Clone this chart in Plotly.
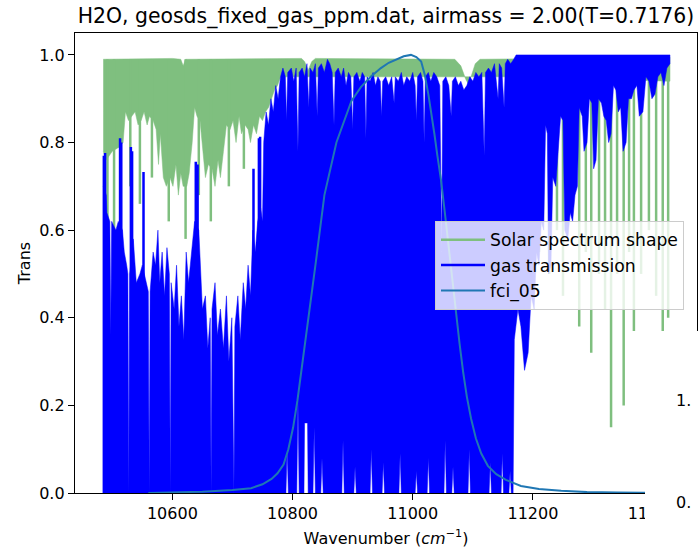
import plotly.graph_objects as go

# ---------------- data ----------------
# gas transmission: upper envelope of the dense line spectrum (wavenumber, value)
gas_upper = [
    (10485, 0.70), (10490, 0.68), (10491, 0.64), (10496, 0.62), (10497.5, 0.36), (10499, 0.62),
    (10506, 0.60), (10510, 0.62), (10517, 0.60), (10520, 0.55), (10524, 0.52), (10526, 0.50),
    (10527.5, 0.0), (10529, 0.50), (10535, 0.58), (10540, 0.48), (10546, 0.50), (10550, 0.52),
    (10555, 0.49), (10560, 0.46), (10561.5, 0.0), (10563, 0.46), (10568, 0.55), (10572, 0.52),
    (10576, 0.60), (10579, 0.48), (10583, 0.55), (10587, 0.45), (10591, 0.56), (10595, 0.50),
    (10596.5, 0.0), (10598, 0.48), (10603, 0.42), (10607, 0.52), (10611, 0.38), (10615, 0.45),
    (10619, 0.35), (10623, 0.55), (10627, 0.48), (10632, 0.55), (10637, 0.62), (10644, 0.60),
    (10650, 0.42), (10655, 0.45), (10659, 0.33), (10663, 0.40), (10664.5, 0.0), (10666, 0.42),
    (10671, 0.48), (10675, 0.36), (10680, 0.42), (10685, 0.33), (10690, 0.45), (10694, 0.30),
    (10699, 0.40), (10702.5, 0.0), (10704, 0.38), (10709, 0.45), (10713, 0.35), (10718, 0.48),
    (10722, 0.42), (10726, 0.52), (10730, 0.45), (10734, 0.60), (10738, 0.55), (10742, 0.62),
    (10747, 0.65), (10750, 0.62), (10752, 0.80), (10756, 0.87), (10760, 0.84), (10764, 0.90),
    (10768, 0.87), (10772, 0.93), (10776, 0.90), (10780, 0.95), (10784, 0.97),
    (10788, 0.95), (10790, 0.85), (10792, 0.96), (10798, 0.97), (10802, 0.94), (10806, 0.97),
    (10809, 0.78), (10811, 0.96), (10816, 0.97), (10820, 0.95), (10824, 0.98), (10827, 0.88),
    (10829, 0.97), (10834, 0.96), (10838, 0.98), (10841, 0.86), (10843, 0.97), (10848, 0.98),
    (10853, 0.96), (10858, 0.99), (10862, 0.98), (10866, 0.96), (10869, 0.84), (10871, 0.96),
    (10876, 0.97), (10881, 0.95), (10885, 0.97), (10889, 0.93), (10893, 0.96), (10897, 0.95),
    (10900, 0.83), (10902, 0.95), (10907, 0.96), (10912, 0.94), (10916, 0.96), (10920, 0.95),
    (10922, 0.81), (10924, 0.95), (10929, 0.94), (10934, 0.96), (10938, 0.93), (10942, 0.95),
    (10946, 0.94), (10948, 0.86), (10950, 0.94), (10955, 0.95), (10960, 0.93), (10965, 0.95),
    (10969, 0.89), (10971, 0.95), (10976, 0.94), (10981, 0.96), (10985, 0.93), (10990, 0.95),
    (10995, 0.94), (11000, 0.96), (11004, 0.93), (11006, 0.85), (11008, 0.95), (11013, 0.96),
    (11017, 0.94), (11019, 0.80), (11021, 0.95), (11026, 0.96), (11030, 0.94), (11035, 0.96),
    (11040, 0.95), (11045, 0.93), (11048, 0.55), (11050, 0.94), (11055, 0.95), (11060, 0.93),
    (11064, 0.86), (11066, 0.94), (11071, 0.95), (11076, 0.93), (11080, 0.94), (11085, 0.92),
    (11090, 0.93), (11095, 0.95), (11100, 0.94), (11105, 0.96), (11110, 0.95), (11115, 0.96),
    (11119, 0.77), (11121, 0.96), (11126, 0.97), (11131, 0.96), (11136, 0.98), (11142, 0.90),
    (11144, 0.98), (11148, 0.97), (11152, 0.88), (11154, 0.98), (11158, 0.99), (11163, 0.98),
    (11168, 0.99), (11172, 1.0), (11428, 1.0),
]
# gas transmission: lower envelope (wavenumber, value)
gas_lower = [
    (10485, 0.0), (10789, 0.0), (10791, 0.10), (10793, 0.0), (10807, 0.0), (10809, 0.22),
    (10811, 0.0), (10819, 0.0), (10820, 0.16), (10825, 0.16), (10826, 0.0), (10834, 0.0),
    (10836, 0.15), (10838, 0.0), (10847, 0.0), (10849, 0.08), (10851, 0.0), (10882, 0.0),
    (10884, 0.12), (10886, 0.0), (10902, 0.0), (10904, 0.06), (10906, 0.0), (10929, 0.0),
    (10931, 0.10), (10933, 0.0), (10949, 0.0), (10951, 0.07), (10953, 0.0), (10977, 0.0),
    (10979, 0.09), (10981, 0.0), (11004, 0.0), (11006, 0.05), (11008, 0.0), (11024, 0.0),
    (11026, 0.08), (11028, 0.0), (11052, 0.0), (11054, 0.12), (11056, 0.0), (11065, 0.0),
    (11067, 0.06), (11069, 0.0), (11092, 0.0), (11094, 0.10), (11096, 0.0), (11127, 0.0),
    (11129, 0.07), (11131, 0.0), (11147, 0.0), (11149, 0.09), (11151, 0.0), (11160, 0.0),
    (11162, 0.05), (11164, 0.0), (11167, 0.0),
    (11169, 0.35), (11175, 0.42), (11180, 0.38), (11186, 0.28), (11192, 0.32), (11197, 0.45),
    (11202, 0.42), (11206, 0.55), (11210, 0.52), (11214, 0.62), (11218, 0.60), (11221, 0.84),
    (11224, 0.82), (11226, 0.50), (11230, 0.52), (11233, 0.72), (11238, 0.70), (11242, 0.78),
    (11246, 0.86), (11250, 0.85), (11253, 0.60), (11258, 0.58), (11262, 0.64), (11266, 0.62),
    (11270, 0.68), (11274, 0.70), (11277, 0.88), (11282, 0.86), (11285, 0.78), (11290, 0.80),
    (11294, 0.90), (11298, 0.89), (11301, 0.74), (11305, 0.76), (11309, 0.90), (11314, 0.89),
    (11318, 0.86), (11322, 0.85), (11326, 0.80), (11330, 0.82), (11334, 0.93), (11338, 0.92),
    (11342, 0.87), (11346, 0.88), (11350, 0.78), (11355, 0.80), (11359, 0.90), (11364, 0.90),
    (11368, 0.92), (11373, 0.93), (11377, 0.86), (11383, 0.87), (11388, 0.95), (11393, 0.94),
    (11398, 0.90), (11403, 0.91), (11408, 0.95), (11413, 0.96), (11418, 0.93), (11423, 0.97),
    (11428, 0.98),
]
# narrow tall gas-transmission lines (wavenumber, low, high)
gas_line_wn = [10486, 10488, 10513, 10515, 10531, 10533, 10552, 10639, 10642, 10735, 10744, 10746]
gas_line_lo = [0.0] * 12
gas_line_hi = [0.77, 0.776, 0.81, 0.80, 0.79, 0.78, 0.733, 0.756, 0.75, 0.74, 0.81, 0.813]

# solar spectrum shape: band top and bottom (wavenumber, value)
solar_upper = [
    (10485, 0.99), (10600, 0.992), (10614, 0.99), (10618, 0.975), (10622, 0.99), (10815, 0.992),
    (10820, 0.985), (10826, 0.965), (10832, 0.985), (10838, 0.992), (11070, 0.99), (11080, 0.975),
    (11088, 0.945), (11092, 0.935), (11097, 0.95), (11104, 0.98), (11112, 0.99), (11428, 0.995),
]
solar_lower = [
    (10485, 0.78), (10490, 0.76), (10500, 0.78), (10512, 0.79), (10518, 0.80), (10522, 0.87),
    (10527, 0.85), (10532, 0.86), (10538, 0.87), (10543, 0.84), (10548, 0.85), (10553, 0.87),
    (10558, 0.84), (10562, 0.86), (10568, 0.85), (10573, 0.83), (10577, 0.75), (10580, 0.82),
    (10585, 0.72), (10590, 0.70), (10596, 0.72), (10601, 0.70), (10606, 0.75), (10610, 0.68),
    (10614, 0.73), (10618, 0.70), (10624, 0.70), (10628, 0.73), (10633, 0.80), (10637, 0.88),
    (10641, 0.86), (10646, 0.85), (10650, 0.80), (10655, 0.72), (10660, 0.75), (10666, 0.74),
    (10671, 0.70), (10676, 0.76), (10680, 0.72), (10685, 0.78), (10690, 0.84), (10696, 0.83),
    (10701, 0.85), (10706, 0.80), (10711, 0.86), (10715, 0.82), (10721, 0.84), (10726, 0.83),
    (10730, 0.80), (10735, 0.84), (10740, 0.82), (10745, 0.86), (10750, 0.85), (10755, 0.87),
    (10760, 0.88), (10765, 0.90), (10770, 0.92), (10775, 0.93), (10780, 0.95), (11170, 0.95),
    (11428, 0.94),
]
# deep solar absorption lines (wavenumber, low, high)
solar_line_wn = [10492, 10503, 10530, 10546, 10566, 10594, 10622, 10644, 10664, 10694, 10719,
                 11210, 11227, 11240, 11250, 11263, 11277, 11288, 11297, 11310, 11320, 11330,
                 11340, 11351, 11360, 11368, 11380, 11393, 11405, 11416, 11425]
solar_line_lo = [0.60, 0.52, 0.70, 0.66, 0.72, 0.62, 0.58, 0.68, 0.62, 0.70, 0.74,
                 0.55, 0.50, 0.60, 0.45, 0.65, 0.38, 0.55, 0.32, 0.50, 0.42, 0.15,
                 0.50, 0.20, 0.55, 0.37, 0.50, 0.60, 0.45, 0.35, 0.40]
solar_line_hi = [0.99] * 31

# fci_05 spectral response function
fci_wn = [10560, 10600, 10650, 10700, 10731, 10750, 10765, 10775, 10785, 10793, 10801, 10808,
          10814, 10821, 10828, 10839, 10853, 10873, 10898, 10914, 10930, 10947, 10960, 10972,
          10985, 10997, 11006, 11014, 11020, 11026, 11031, 11036, 11041, 11047, 11053, 11059,
          11065, 11072, 11078, 11084, 11090, 11097, 11105, 11114, 11125, 11139, 11155, 11180,
          11210, 11247, 11290, 11340, 11400, 11428]
fci_resp = [0.0, 0.001, 0.003, 0.007, 0.011, 0.02, 0.032, 0.045, 0.065, 0.10, 0.15, 0.21,
            0.27, 0.34, 0.41, 0.53, 0.68, 0.80, 0.895, 0.927, 0.95, 0.97, 0.982, 0.99,
            0.997, 1.0, 0.995, 0.985, 0.955, 0.91, 0.87, 0.82, 0.77, 0.715, 0.645, 0.57,
            0.49, 0.41, 0.34, 0.275, 0.22, 0.17, 0.125, 0.09, 0.062, 0.043, 0.03, 0.016,
            0.009, 0.005, 0.002, 0.001, 0.0, 0.0]

x_ticks = [10600, 10800, 11000, 11200, 11400]
x_tick_labels = ["10600", "10800", "11000", "11200", "11400"]
y_ticks = [0.0, 0.2, 0.4, 0.6, 0.8, 1.0]
y_tick_labels = ["0.0", "0.2", "0.4", "0.6", "0.8", "1.0"]
title_text = "H2O, geosds_fixed_gas_ppm.dat, airmass = 2.00(T=0.7176)"

# ---------------- styles ----------------
GREEN = "#7fbf7f"
BLUE = "#0000ff"
FCI = "#1f77b4"
FONT = "DejaVu Sans"


def polygon(upper, lower):
    xs = [p[0] for p in upper] + [p[0] for p in reversed(lower)]
    ys = [p[1] for p in upper] + [p[1] for p in reversed(lower)]
    return xs, ys


def segments(wn, lo, hi):
    xs, ys = [], []
    for w, a, b in zip(wn, lo, hi):
        xs += [w, w, None]
        ys += [a, b, None]
    return xs, ys


fig = go.Figure()

sx, sy = polygon(solar_upper, solar_lower)
fig.add_trace(go.Scatter(x=sx, y=sy, mode="lines", fill="toself", fillcolor=GREEN,
                         line=dict(color=GREEN, width=0.5), showlegend=False, hoverinfo="skip"))
lx, ly = segments(solar_line_wn, solar_line_lo, solar_line_hi)
fig.add_trace(go.Scatter(x=lx, y=ly, mode="lines", line=dict(color=GREEN, width=2.5),
                         name="Solar spectrum shape"))

gx, gy = polygon(gas_upper, gas_lower)
fig.add_trace(go.Scatter(x=gx, y=gy, mode="lines", fill="toself", fillcolor=BLUE,
                         line=dict(color=BLUE, width=0.5), showlegend=False, hoverinfo="skip"))
bx, by = segments(gas_line_wn, gas_line_lo, gas_line_hi)
fig.add_trace(go.Scatter(x=bx, y=by, mode="lines", line=dict(color=BLUE, width=2.5),
                         name="gas transmission"))

fig.add_trace(go.Scatter(x=fci_wn, y=fci_resp, mode="lines", line=dict(color=FCI, width=2),
                         name="fci_05"))

# plot area: x 75..697 px, y 33..493 px
L, R, T, B = 75, 697, 33, 493
W, H = R - L, B - T


def px(xp):
    return (xp - L) / W


def py(yp):
    return (B - yp) / H


axis_common = dict(showline=True, linecolor="black", linewidth=1.3, mirror=True,
                   ticks="outside", ticklen=6, tickwidth=1.3, tickcolor="black",
                   showgrid=False, zeroline=False,
                   tickfont=dict(family=FONT, size=16, color="black"))

fig.update_layout(
    width=700, height=553,
    margin=dict(l=L, r=700 - R, t=T, b=553 - B),
    paper_bgcolor="white", plot_bgcolor="white",
    font=dict(family=FONT, size=16, color="black"),
    title=dict(text=title_text, x=0.5, xref="paper", xanchor="center",
               y=1 - 16 / 553, yref="container", yanchor="middle",
               font=dict(family=FONT, size=20.4, color="black")),
    xaxis=dict(range=[10438, 11473], tickvals=x_ticks, ticktext=x_tick_labels,
               title=dict(text="Wavenumber (<i>cm</i><sup>\u22121</sup>)",
                          font=dict(family=FONT, size=16), standoff=10),
               **axis_common),
    yaxis=dict(range=[0, 1.05], tickvals=y_ticks, ticktext=y_tick_labels,
               title=dict(text="Trans", font=dict(family=FONT, size=16), standoff=4),
               **axis_common),
    legend=dict(x=px(435), y=py(221), xanchor="left", yanchor="top",
                bgcolor="rgba(255,255,255,0.8)", bordercolor="#cccccc", borderwidth=1,
                font=dict(family=FONT, size=17.2, color="black"),
                tracegroupgap=0, itemwidth=44),
    showlegend=True,
)

# a second figure window overlapping the lower right corner
fig.add_shape(type="rect", xref="paper", yref="paper",
              x0=px(645), x1=px(705), y0=py(560), y1=py(331),
              fillcolor="white", line=dict(width=0), layer="above")
fig.add_annotation(text="1.", xref="paper", yref="paper", x=px(693), y=py(412),
                   showarrow=False, font=dict(family=FONT, size=16, color="black"))
fig.add_annotation(text="0.", xref="paper", yref="paper", x=px(693), y=py(514),
                   showarrow=False, font=dict(family=FONT, size=16, color="black"))

fig.write_html("out.html")
